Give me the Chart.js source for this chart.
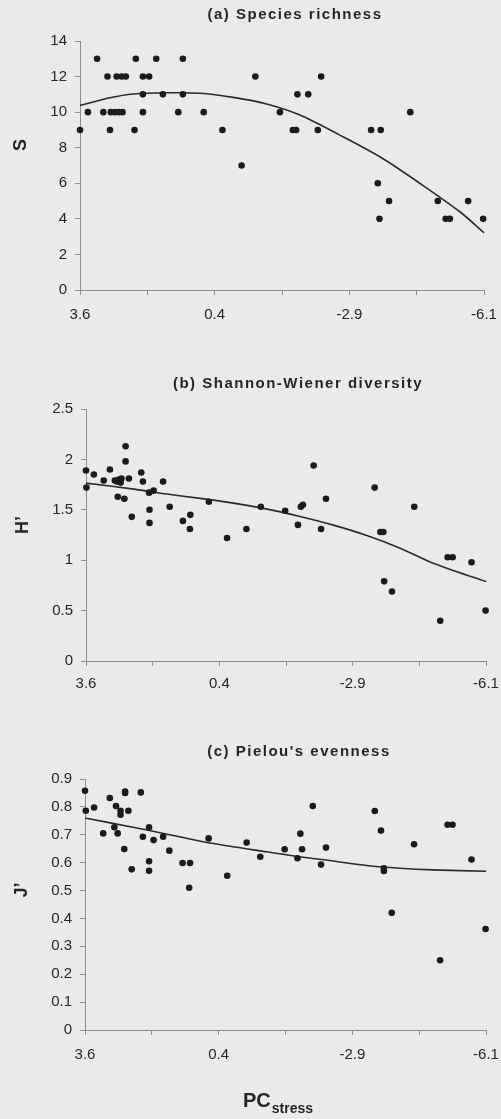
<!DOCTYPE html>
<html>
<head>
<meta charset="utf-8">
<script src="https://cdn.jsdelivr.net/npm/chart.js@4.4.1/dist/chart.umd.min.js"></script>
<style>
  html, body { margin: 0; padding: 0; }
  body { width: 501px; height: 1119px; overflow: hidden; background: #eaeaec; position: relative; }
  canvas { position: absolute; left: 0; }
</style>
</head>
<body>
<canvas id="richness" width="501" height="340" style="top:0"></canvas>
<canvas id="diversity" width="501" height="340" style="top:360px"></canvas>
<canvas id="evenness" width="501" height="389" style="top:730px"></canvas>
<script>
// PC stress axis runs from stressed (3.6) down to -6.1; every other tick is labelled
const stressLabels = ['3.6', '0.4', '-2.9', '-6.1'];

// (a) species richness per site
const richX = [3.60, 3.41, 3.19, 3.04, 2.94, 2.88, 2.86, 2.76, 2.72, 2.67, 2.60, 2.58, 2.50, 2.29, 2.26,
  2.09, 2.09, 2.09, 1.94, 1.77, 1.61, 1.24, 1.13, 1.13, 0.63, 0.18, -0.28, -0.61, -1.20, -1.51,
  -1.59, -1.62, -1.88, -2.11, -2.19, -3.39, -3.55, -3.59, -3.62, -3.82, -4.33, -4.99, -5.18, -5.28, -5.72, -6.08];
const richS = [9, 10, 13, 10, 12, 9, 10, 10, 12, 10, 12, 10, 12, 9, 13,
  12, 11, 10, 12, 13, 11, 10, 13, 11, 10, 9, 7, 12, 10, 9,
  9, 11, 11, 9, 12, 9, 6, 4, 9, 5, 10, 5, 4, 4, 5, 4];
const richFitX = [3.60, 2.88, 2.32, 1.52, 0.72, -0.08, -0.88, -1.68, -2.64, -3.60, -4.56, -5.52, -6.10];
const richFitS = [10.38, 10.81, 11.02, 11.09, 11.06, 10.83, 10.46, 9.84, 8.71, 7.49, 6.00, 4.40, 3.22];

// (b) Shannon-Wiener H'
const divX = [3.60, 3.59, 3.41, 3.17, 3.02, 2.90, 2.85, 2.80, 2.76, 2.74, 2.83, 2.67, 2.64, 2.64, 2.56,
  2.49, 2.26, 2.22, 2.07, 2.06, 2.06, 1.96, 1.73, 1.57, 1.25, 1.07, 1.08, 0.62, 0.18, -0.29,
  -0.64, -1.23, -1.54, -1.61, -1.66, -1.92, -2.10, -2.22, -3.40, -3.54, -3.61, -3.63, -3.82, -4.36, -4.99,
  -5.17, -5.29, -5.75, -6.09];
const divH = [1.89, 1.72, 1.85, 1.79, 1.90, 1.79, 1.78, 1.80, 1.77, 1.81, 1.63, 1.61, 2.13, 1.98, 1.81,
  1.43, 1.87, 1.78, 1.67, 1.50, 1.37, 1.69, 1.78, 1.53, 1.39, 1.45, 1.31, 1.58, 1.22, 1.31,
  1.53, 1.49, 1.35, 1.53, 1.55, 1.94, 1.31, 1.61, 1.72, 1.28, 1.28, 0.79, 0.69, 1.53, 0.40,
  1.03, 1.03, 0.98, 0.50];
const divFitX = [3.60, 2.44, 1.64, 0.83, 0.02, -0.79, -1.59, -2.40, -3.21, -4.02, -4.82, -6.10];
const divFitH = [1.765, 1.705, 1.656, 1.613, 1.566, 1.507, 1.434, 1.348, 1.245, 1.119, 0.970, 0.788];

// (c) Pielou's J'
const evenX = [3.60, 3.58, 3.38, 3.16, 3.00, 2.89, 2.85, 2.81, 2.74, 2.74, 2.65, 2.63, 2.63, 2.55, 2.47,
  2.25, 2.20, 2.05, 2.05, 2.05, 1.94, 1.71, 1.56, 1.24, 1.06, 1.08, 0.61, 0.16, -0.31, -0.64,
  -1.23, -1.54, -1.61, -1.65, -1.91, -2.11, -2.23, -3.41, -3.56, -3.63, -3.63, -3.82, -4.36, -4.99, -5.17,
  -5.29, -5.75, -6.09];
const evenJ = [0.858, 0.786, 0.798, 0.705, 0.832, 0.727, 0.803, 0.705, 0.786, 0.772, 0.649, 0.855, 0.850, 0.786, 0.576,
  0.852, 0.693, 0.727, 0.605, 0.571, 0.681, 0.693, 0.643, 0.599, 0.599, 0.510, 0.687, 0.553, 0.672, 0.621,
  0.648, 0.616, 0.704, 0.648, 0.803, 0.593, 0.654, 0.785, 0.715, 0.580, 0.570, 0.420, 0.666, 0.250, 0.736,
  0.736, 0.611, 0.362];
const evenFitX = [3.60, 2.44, 1.64, 0.83, 0.02, -0.79, -1.59, -2.40, -3.21, -4.02, -4.82, -6.10];
const evenFitJ = [0.760, 0.727, 0.703, 0.678, 0.657, 0.639, 0.621, 0.606, 0.590, 0.580, 0.574, 0.569];

const FONT = '"Liberation Sans", Arial, sans-serif';
const AXIS = '#8e8e8e';
const INK = '#262626';

const pairs = (xs, ys) => xs.map((x, i) => ({ x, y: ys[i] }));
const trim = v => String(Math.round(v * 10) / 10);

// panel title, rotated y label and the optional PC_stress caption
const panelText = {
  id: 'panelText',
  afterDraw(chart, args, o) {
    const ctx = chart.ctx;
    ctx.save();
    ctx.fillStyle = INK;
    ctx.textBaseline = 'middle';
    ctx.textAlign = 'center';
    ctx.letterSpacing = '1.5px';
    ctx.font = 'bold 15px ' + FONT;
    ctx.fillText(o.title, o.titleX, o.titleY);
    ctx.letterSpacing = '0px';

    ctx.save();
    ctx.translate(o.labelX, o.labelY);
    ctx.rotate(-Math.PI / 2);
    ctx.font = 'bold 18px ' + FONT;
    ctx.fillText(o.label, 0, 0);
    ctx.restore();

    if (o.caption) {
      ctx.textAlign = 'left';
      ctx.textBaseline = 'alphabetic';
      ctx.font = 'bold 20px ' + FONT;
      ctx.fillText('PC', o.caption.x, o.caption.y);
      const w = ctx.measureText('PC').width;
      ctx.font = 'bold 14px ' + FONT;
      ctx.fillText('stress', o.caption.x + w + 1, o.caption.y + 6);
    }
    ctx.restore();
  }
};

function panel(id, p) {
  const canvas = document.getElementById(id);
  return new Chart(canvas, {
    type: 'scatter',
    data: {
      datasets: [
        {
          data: pairs(p.x, p.y),
          pointRadius: 3.3,
          pointBackgroundColor: '#1b1b1b',
          pointBorderWidth: 0,
          clip: false
        },
        {
          data: pairs(p.fitX, p.fitY),
          showLine: true,
          pointRadius: 0,
          borderColor: '#2b2b2b',
          borderWidth: 1.6,
          tension: 0.3,
          clip: false
        }
      ]
    },
    options: {
      responsive: false,
      animation: false,
      events: [],
      layout: { padding: { top: p.area.top, right: canvas.width - p.area.right, left: 0, bottom: 0 } },
      plugins: {
        legend: { display: false },
        tooltip: { enabled: false },
        panelText: p.text
      },
      scales: {
        x: {
          type: 'linear',
          reverse: true,
          min: -6.1,
          max: 3.6,
          afterFit: s => {
            s.height = canvas.height - p.area.bottom;
            // end labels may hang past the plot; keep the plot width fixed
            s.paddingLeft = 0;
            s.paddingRight = 0;
          },
          grid: { drawOnChartArea: false, drawTicks: true, tickLength: 5, color: AXIS },
          border: { color: AXIS, width: 1 },
          ticks: {
            count: 7,
            autoSkip: false,
            maxRotation: 0,
            padding: p.xPad,
            color: INK,
            font: { family: FONT, size: 15 },
            // reversed scale: tick 0 sits at the left (3.6)
            callback: (v, i) => (i % 2 ? '' : stressLabels[i / 2])
          }
        },
        y: {
          min: 0,
          max: p.yMax,
          afterFit: s => { s.width = p.area.left; },
          grid: { drawOnChartArea: false, drawTicks: true, tickLength: 5, color: AXIS },
          border: { color: AXIS, width: 1 },
          ticks: {
            stepSize: p.yStep,
            padding: 8,
            color: INK,
            font: { family: FONT, size: 15 },
            callback: trim
          }
        }
      }
    },
    plugins: [panelText]
  });
}

panel('richness', {
  x: richX, y: richS, fitX: richFitX, fitY: richFitS,
  yMax: 14, yStep: 2, xPad: 11,
  area: { left: 80, right: 484, top: 41, bottom: 290 },
  text: { title: '(a) Species richness', titleX: 295, titleY: 15, label: 'S', labelX: 21, labelY: 145 }
});

panel('diversity', {
  x: divX, y: divH, fitX: divFitX, fitY: divFitH,
  yMax: 2.5, yStep: 0.5, xPad: 9,
  area: { left: 86, right: 486, top: 49, bottom: 301 },
  text: { title: '(b) Shannon-Wiener diversity', titleX: 298, titleY: 24, label: 'H\u2019', labelX: 23, labelY: 165 }
});

panel('evenness', {
  x: evenX, y: evenJ, fitX: evenFitX, fitY: evenFitJ,
  yMax: 0.9, yStep: 0.1, xPad: 11,
  area: { left: 85, right: 486, top: 49, bottom: 300 },
  text: {
    title: "(c) Pielou's evenness", titleX: 299, titleY: 22,
    label: 'J\u2019', labelX: 22, labelY: 160,
    caption: { x: 243, y: 377 }
  }
});
</script>
</body>
</html>
